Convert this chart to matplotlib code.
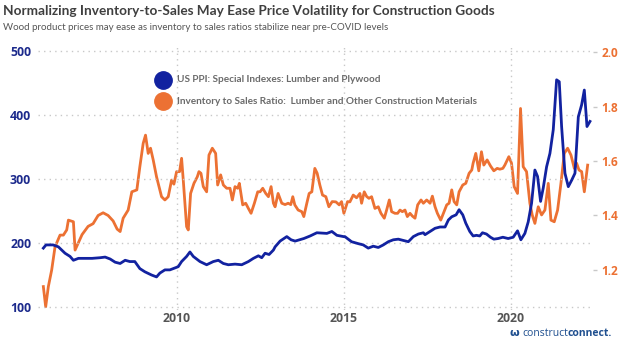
import matplotlib
matplotlib.use("Agg")
import matplotlib.pyplot as plt
from matplotlib.lines import Line2D

# ---------------- data ----------------
ppi_t = [2006.01, 2006.09, 2006.30, 2006.46, 2006.66, 2006.81, 2006.91, 2007.06, 2007.26, 2007.47,
         2007.71, 2007.86, 2008.01, 2008.16, 2008.31, 2008.46, 2008.60, 2008.75, 2008.90, 2009.05,
         2009.25, 2009.40, 2009.50, 2009.65, 2009.80, 2009.90, 2010.05, 2010.15, 2010.30, 2010.40,
         2010.50, 2010.65, 2010.70, 2010.90, 2011.10, 2011.25, 2011.40, 2011.55, 2011.75, 2011.95,
         2012.15, 2012.30, 2012.45, 2012.55, 2012.65, 2012.77, 2012.90, 2012.95, 2013.10, 2013.30,
         2013.43, 2013.55, 2013.81, 2014.00, 2014.20, 2014.50, 2014.65, 2014.80, 2015.00, 2015.04,
         2015.24, 2015.44, 2015.59, 2015.74, 2015.89, 2016.04, 2016.19, 2016.34, 2016.49, 2016.64,
         2016.79, 2016.94, 2017.09, 2017.24, 2017.39, 2017.44, 2017.59, 2017.74, 2017.89, 2018.04,
         2018.14, 2018.24, 2018.37, 2018.46, 2018.57, 2018.66, 2018.78, 2018.88, 2018.98, 2019.08,
         2019.16, 2019.28, 2019.40, 2019.50, 2019.63, 2019.77, 2019.93, 2020.08, 2020.21, 2020.31,
         2020.43, 2020.53, 2020.63, 2020.73, 2020.81, 2020.90, 2020.98, 2021.08, 2021.18, 2021.28,
         2021.38, 2021.46, 2021.53, 2021.63, 2021.73, 2021.83, 2021.93, 2022.03, 2022.13, 2022.21,
         2022.29, 2022.38]
ppi_v = [192, 197, 197, 194, 184, 179, 173, 176, 176, 176,
         177, 178, 175, 170, 168, 173, 171, 171, 160, 155,
         150, 147, 153, 158, 158, 160, 163, 171, 179, 186,
         179, 173, 171, 166, 171, 173, 168, 166, 167, 166,
         171, 176, 180, 177, 184, 182, 189, 194, 203, 210,
         205, 203, 207, 211, 216, 215, 218, 212, 210, 210,
         202, 199, 197, 192, 195, 193, 197, 202, 205, 206,
         204, 202, 210, 214, 216, 213, 218, 223, 225, 225,
         236, 241, 244, 252, 244, 231, 218, 211, 212, 211,
         216, 214, 209, 206, 207, 209, 207, 209, 219, 205,
         215, 233, 262, 314, 304, 265, 286, 319, 340, 377,
         455, 452, 382, 309, 288, 298, 309, 397, 416, 439,
         382, 390]

ratio_t = [2006.01, 2006.08, 2006.16, 2006.26, 2006.36, 2006.51, 2006.61, 2006.71, 2006.76, 2006.91,
           2006.96, 2007.06, 2007.17, 2007.35, 2007.50, 2007.65, 2007.80, 2007.95, 2008.10, 2008.22,
           2008.31, 2008.40, 2008.55, 2008.66, 2008.81, 2008.90, 2009.00, 2009.07, 2009.15, 2009.22,
           2009.30, 2009.40, 2009.55, 2009.65, 2009.75, 2009.85, 2009.92, 2010.00, 2010.09, 2010.15,
           2010.20, 2010.30, 2010.35, 2010.42, 2010.52, 2010.62, 2010.67, 2010.73, 2010.80, 2010.90,
           2010.97, 2011.07, 2011.17, 2011.23, 2011.32, 2011.40, 2011.50, 2011.60, 2011.67, 2011.75,
           2011.83, 2011.88, 2011.98, 2012.07, 2012.15, 2012.23, 2012.33, 2012.43, 2012.50, 2012.58,
           2012.67, 2012.75, 2012.83, 2012.90, 2012.95, 2013.04, 2013.15, 2013.25, 2013.34, 2013.42,
           2013.48, 2013.54, 2013.64, 2013.75, 2013.81, 2013.90, 2013.97, 2014.05, 2014.14, 2014.21,
           2014.29, 2014.37, 2014.47, 2014.56, 2014.66, 2014.77, 2014.87, 2014.94, 2015.01, 2015.12,
           2015.19, 2015.29, 2015.39, 2015.49, 2015.54, 2015.62, 2015.69, 2015.76, 2015.84, 2015.94,
           2016.04, 2016.12, 2016.22, 2016.29, 2016.37, 2016.44, 2016.54, 2016.62, 2016.69, 2016.76,
           2016.84, 2016.91, 2016.99, 2017.06, 2017.14, 2017.22, 2017.32, 2017.39, 2017.49, 2017.59,
           2017.66, 2017.74, 2017.81, 2017.91, 2018.01, 2018.09, 2018.16, 2018.24, 2018.31, 2018.39,
           2018.46, 2018.57, 2018.66, 2018.76, 2018.84, 2018.88, 2018.96, 2019.05, 2019.13, 2019.20,
           2019.30, 2019.40, 2019.50, 2019.60, 2019.68, 2019.77, 2019.83, 2019.95, 2020.03, 2020.11,
           2020.21, 2020.30, 2020.38, 2020.48, 2020.58, 2020.65, 2020.73, 2020.83, 2020.93, 2021.03,
           2021.13, 2021.21, 2021.31, 2021.41, 2021.51, 2021.61, 2021.71, 2021.81, 2021.91, 2021.98,
           2022.05, 2022.13, 2022.21, 2022.31]
ratio_v = [1.139, 1.065, 1.139, 1.200, 1.285, 1.328, 1.328, 1.347, 1.383, 1.377,
           1.273, 1.300, 1.330, 1.360, 1.370, 1.400, 1.410, 1.400, 1.380, 1.350,
           1.341, 1.390, 1.420, 1.487, 1.494, 1.579, 1.665, 1.695, 1.628, 1.647,
           1.604, 1.542, 1.469, 1.457, 1.469, 1.530, 1.515, 1.561, 1.561, 1.610,
           1.530, 1.359, 1.347, 1.481, 1.518, 1.542, 1.561, 1.555, 1.506, 1.487,
           1.622, 1.647, 1.628, 1.512, 1.549, 1.512, 1.500, 1.500, 1.457, 1.506,
           1.500, 1.518, 1.439, 1.445, 1.426, 1.408, 1.445, 1.487, 1.487, 1.500,
           1.481, 1.469, 1.506, 1.445, 1.432, 1.481, 1.445, 1.440, 1.445, 1.440,
           1.469, 1.439, 1.420, 1.414, 1.396, 1.445, 1.481, 1.487, 1.573, 1.555,
           1.512, 1.475, 1.469, 1.432, 1.451, 1.450, 1.439, 1.451, 1.408, 1.451,
           1.450, 1.475, 1.465, 1.481, 1.445, 1.487, 1.470, 1.463, 1.469, 1.426,
           1.432, 1.408, 1.390, 1.420, 1.457, 1.414, 1.408, 1.408, 1.420, 1.414,
           1.420, 1.396, 1.408, 1.398, 1.390, 1.439, 1.457, 1.445, 1.457, 1.445,
           1.471, 1.432, 1.408, 1.383, 1.414, 1.439, 1.445, 1.494, 1.451, 1.439,
           1.487, 1.512, 1.518, 1.555, 1.567, 1.592, 1.628, 1.564, 1.634, 1.585,
           1.604, 1.582, 1.564, 1.573, 1.570, 1.573, 1.585, 1.616, 1.592, 1.506,
           1.481, 1.793, 1.579, 1.561, 1.445, 1.402, 1.371, 1.432, 1.402, 1.420,
           1.518, 1.383, 1.377, 1.420, 1.518, 1.628, 1.647, 1.622, 1.573, 1.592,
           1.567, 1.561, 1.487, 1.585]

left_ticks = [100, 200, 300, 400, 500]
right_ticks = [1.2, 1.4, 1.6, 1.8, 2.0]
x_ticks = [2010, 2015, 2020]

title = "Normalizing Inventory-to-Sales May Ease Price Volatility for Construction Goods"
subtitle = "Wood product prices may ease as inventory to sales ratios stabilize near pre-COVID levels"
label_ppi = "US PPI: Special Indexes: Lumber and Plywood"
label_ratio = "Inventory to Sales Ratio:  Lumber and Other Construction Materials"

# ---------------- style ----------------
BLUE = "#1222a0"
ORANGE = "#ec7133"
NAVY = "#1c2a8c"
GRID = "#c8c8c8"
LOGO = "#1f4f8f"
W, H = 621, 340
FONT = "Open Sans"
TFONT = "Lato"

fig = plt.figure(figsize=(W / 100, H / 100), dpi=100)
fig.patch.set_facecolor("white")

def px(x0, y0, x1, y1):
    return [x0 / W, 1 - y1 / H, (x1 - x0) / W, (y1 - y0) / H]

ax = fig.add_axes(px(38, 45, 593, 310))
ax2 = ax.twinx()

ax.plot(ppi_t, ppi_v, color=BLUE, lw=2.0, zorder=3, solid_joinstyle="round")
ax2.plot(ratio_t, ratio_v, color=ORANGE, lw=2.0, zorder=2, solid_joinstyle="round")
ax.set_zorder(ax2.get_zorder() + 1)
ax.patch.set_visible(False)

ax.set_xlim(2005.85, 2022.47)
ax.set_ylim(95.3, 509.4)
ax2.set_ylim(1.053, 2.026)

ax.set_yticks(left_ticks)
ax.set_xticks(x_ticks)
ax2.set_yticks(right_ticks)

ax.grid(True, axis="both", color=GRID, linestyle=(0, (1, 3)), lw=1.0)
for a in (ax, ax2):
    for s in a.spines.values():
        s.set_visible(False)

ax.tick_params(axis="y", length=0, pad=5, labelcolor=NAVY, labelsize=8.8)
ax.tick_params(axis="x", length=0, pad=1.5, labelcolor="#555555", labelsize=8.8)
ax2.tick_params(axis="y", length=3, width=1, color=GRID, pad=3, labelcolor=ORANGE, labelsize=8.6)
ax2.set_yticklabels([f"{v:.1f}" for v in right_ticks])
for lab in ax.get_yticklabels() + ax.get_xticklabels() + ax2.get_yticklabels():
    lab.set_fontweight("bold")
    lab.set_fontfamily(FONT)

renderer = fig.canvas.get_renderer()

def fit_text(x, y, s, width_px, **kw):
    t = fig.text(x / W, 1 - y / H, s, **kw)
    fs = t.get_fontsize()
    for _ in range(4):
        w = t.get_window_extent(renderer=renderer).width
        fs = fs * width_px / w
        t.set_fontsize(fs)
    return t

fit_text(3, 11, title, 492, fontsize=13, fontweight="bold", color="#3f3f3f",
         family=TFONT, va="center", ha="left")
fit_text(3, 28, subtitle, 385, fontsize=9, color="#555555",
         family=TFONT, va="center", ha="left")

# legend (manual, inside the plot)
for yy, col in ((80, BLUE), (101, ORANGE)):
    fig.add_artist(Line2D([163 / W], [1 - yy / H], marker="o", markersize=12.5,
                          color=col, markeredgecolor=col, lw=0, transform=fig.transFigure))
fit_text(177, 80, label_ppi, 205, fontsize=8, fontweight="bold", color="#6b6b6b",
         family=TFONT, va="center", ha="left")
fit_text(177, 101, label_ratio, 304, fontsize=8, fontweight="bold", color="#6b6b6b",
         family=TFONT, va="center", ha="left")

# logo text
LOGO_Y = 333
t1 = fit_text(522, LOGO_Y, "construct", 46, fontsize=8, color=LOGO,
              family=FONT, va="center", ha="left")
bb = t1.get_window_extent(renderer=renderer)
fig.text(bb.x1 / W, 1 - LOGO_Y / H, "connect.", fontsize=t1.get_fontsize(), color=LOGO,
         family=FONT, fontweight="bold", va="center", ha="left")
fig.text(510 / W, 1 - LOGO_Y / H, "\u03c9", fontsize=8, color=LOGO,
         family="DejaVu Sans", fontweight="bold", va="center", ha="left")

fig.savefig("out.png", dpi=100)
